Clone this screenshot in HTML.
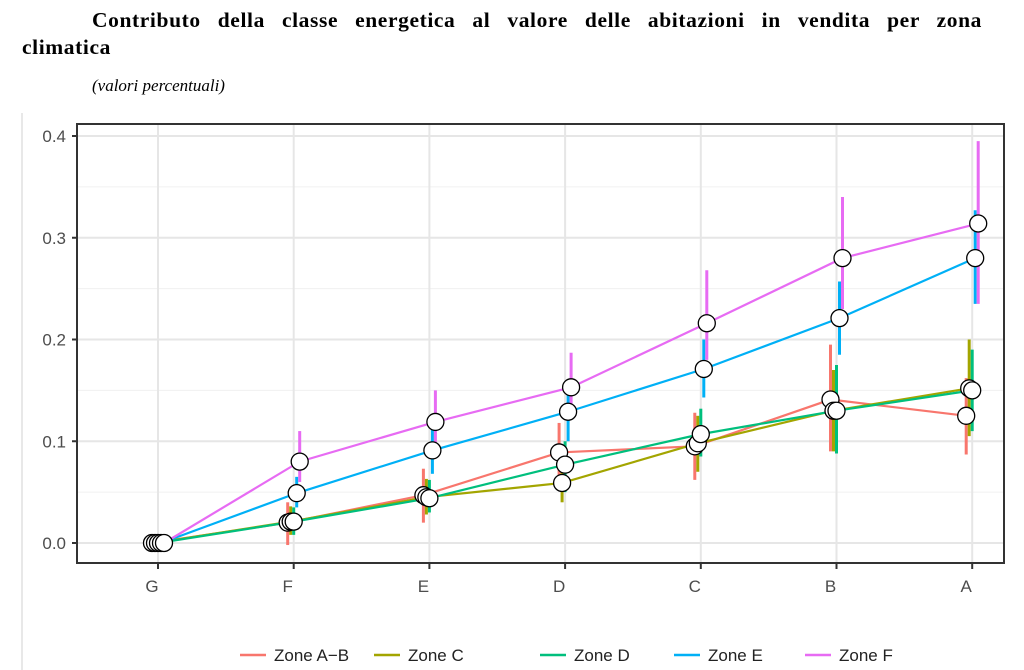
<!DOCTYPE html>
<html><head><meta charset="utf-8">
<style>
body{margin:0;background:#fff;width:1024px;height:670px;overflow:hidden;position:relative}
.t{position:absolute;font-family:"Liberation Serif",serif;font-weight:bold;font-size:21.5px;line-height:28px;letter-spacing:0.6px}
.l1{left:92px;top:6px;width:890px;text-align:justify;text-align-last:justify}
.l2{left:22px;top:33px}
.s{position:absolute;left:92px;top:76px;font-family:"Liberation Serif",serif;font-style:italic;font-size:17px}
svg{position:absolute;left:0;top:0}
</style></head><body>
<div class="t l1">Contributo della classe energetica al valore delle abitazioni in vendita per zona</div>
<div class="t l2">climatica</div>
<div class="s">(valori percentuali)</div>
<svg id="s" width="1024" height="670" font-family="Liberation Sans, sans-serif"></svg>
<script>
const X=i=>158+135.7*i, Y=v=>543-v*1017.5;
let h='<line x1="22" y1="113" x2="22" y2="670" stroke="#e8e8e8" stroke-width="2"/>';
for(let v=0.05;v<0.4;v+=0.1)h+=`<line x1="78" x2="1004" y1="${Y(v)}" y2="${Y(v)}" stroke="#f0f0f0" stroke-width="1"/>`;
for(let v=0;v<=0.4001;v+=0.1)h+=`<line x1="78" x2="1004" y1="${Y(v)}" y2="${Y(v)}" stroke="#e6e6e6" stroke-width="2"/><line x1="72" x2="77" y1="${Y(v)}" y2="${Y(v)}" stroke="#333" stroke-width="2"/><text x="66" y="${Y(v)+6}" text-anchor="end" font-size="17" fill="#4d4d4d">${v.toFixed(1)}</text>`;
"GFEDCBA".split("").forEach((c,i)=>{h+=`<line x1="${X(i)}" x2="${X(i)}" y1="124" y2="563" stroke="#e6e6e6" stroke-width="2"/><line x1="${X(i)}" x2="${X(i)}" y1="564" y2="569" stroke="#333" stroke-width="2"/><text x="${X(i)-6}" y="592" text-anchor="middle" font-size="17" fill="#4d4d4d">${c}</text>`});
const S=[
["#F8766D",-6,[0,.02,.047,.089,.095,.141,.125],[[0,0],[-.002,.04],[.02,.073],[.06,.118],[.062,.128],[.09,.195],[.087,.162]]],
["#A3A500",-3,[0,.021,.045,.059,.098,.13,.152],[[0,0],[.008,.036],[.028,.063],[.04,.08],[.07,.125],[.09,.17],[.105,.2]]],
["#00BF7D",0,[0,.021,.044,.077,.107,.13,.15],[[0,0],[.008,.035],[.03,.062],[.05,.1],[.085,.132],[.088,.175],[.11,.19]]],
["#00B0F6",3,[0,.049,.091,.129,.171,.221,.28],[[0,0],[.035,.065],[.068,.115],[.1,.155],[.143,.2],[.185,.257],[.235,.327]]],
["#E76BF3",6,[0,.08,.119,.153,.216,.28,.314],[[0,0],[.06,.11],[.095,.15],[.125,.187],[.18,.268],[.23,.34],[.235,.395]]]];
S.forEach(([c,o,d,e])=>{e.forEach((r,i)=>{if(i)h+=`<line x1="${X(i)+o}" x2="${X(i)+o}" y1="${Y(r[0])}" y2="${Y(r[1])}" stroke="${c}" stroke-width="3"/>`})});
S.forEach(([c,o,d])=>{h+=`<polyline fill="none" stroke="${c}" stroke-width="2.2" points="${d.map((v,i)=>X(i)+o+','+Y(v)).join(' ')}"/>`});
S.forEach(([c,o,d])=>{d.forEach((v,i)=>h+=`<circle cx="${X(i)+o}" cy="${Y(v)}" r="8.5" fill="#fff" stroke="#000" stroke-width="1.3"/>`)});
h+='<rect x="77" y="124" width="927" height="439" fill="none" stroke="#333" stroke-width="2"/>';
[["Zone A−B",240],["Zone C",374],["Zone D",540],["Zone E",674],["Zone F",805]].forEach(([t,x],i)=>{h+=`<line x1="${x}" x2="${x+26}" y1="655" y2="655" stroke="${S[i][0]}" stroke-width="2.5"/><text x="${x+34}" y="661" font-size="17" fill="#222">${t}</text>`});
document.getElementById('s').innerHTML=h;
</script>
</body></html>
